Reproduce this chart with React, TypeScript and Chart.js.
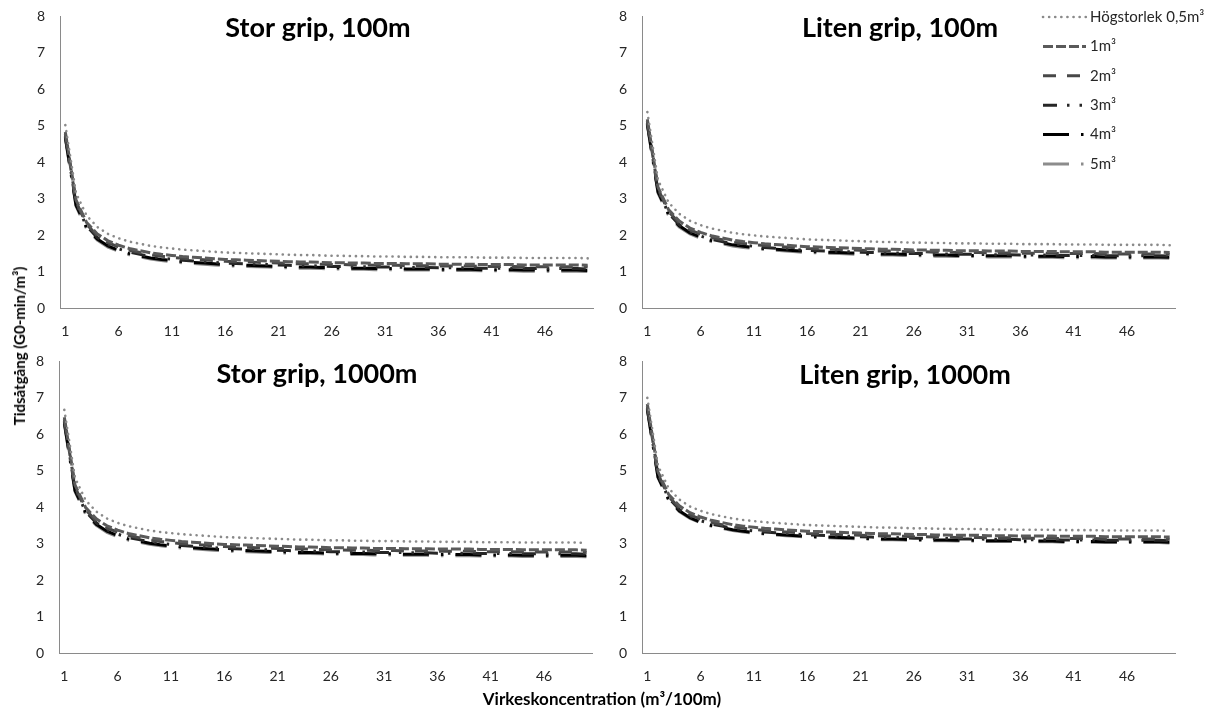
import React, { useEffect, useRef } from 'react';
import { Chart, registerables } from 'chart.js';

Chart.register(...registerables);

// ---------- data ----------
const X_VALUES = ['1','2','3','4','5','6','7','8','9','10','11','12','13','14','15','16','17','18','19','20','21','22','23','24','25','26','27','28','29','30','31','32','33','34','35','36','37','38','39','40','41','42','43','44','45','46','47','48','49','50'];
const X_TICK_LABELS = ['1','6','11','16','21','26','31','36','41','46'];
const Y_MIN = 0;
const Y_MAX = 8;
const Y_STEP = 1;

const SERIES_NAMES = ['Högstorlek 0,5m³', '1m³', '2m³', '3m³', '4m³', '5m³'];
const PANEL_TITLES = ['Stor grip, 100m', 'Liten grip, 100m', 'Stor grip, 1000m', 'Liten grip, 1000m'];
const Y_AXIS_TITLE = 'Tidsåtgång (G0-min/m³)';
const X_AXIS_TITLE = 'Virkeskoncentration (m³/100m)';

// Stor grip, 100m
const stor100_hog = [5.01,3.15,2.53,2.22,2.03,1.91,1.82,1.76,1.70,1.66,1.63,1.60,1.58,1.56,1.54,1.52,1.51,1.50,1.49,1.48,1.47,1.46,1.45,1.45,1.44,1.43,1.43,1.42,1.42,1.41,1.41,1.41,1.40,1.40,1.40,1.39,1.39,1.39,1.39,1.38,1.38,1.38,1.38,1.37,1.37,1.37,1.37,1.37,1.37,1.36];
const stor100_1 = [4.82,2.96,2.34,2.03,1.84,1.72,1.63,1.57,1.51,1.47,1.44,1.41,1.39,1.37,1.35,1.33,1.32,1.31,1.30,1.29,1.28,1.27,1.26,1.26,1.25,1.24,1.24,1.23,1.23,1.22,1.22,1.22,1.21,1.21,1.21,1.20,1.20,1.20,1.20,1.19,1.19,1.19,1.19,1.18,1.18,1.18,1.18,1.18,1.18,1.17];
const stor100_2 = [4.77,2.91,2.29,1.98,1.79,1.67,1.58,1.52,1.46,1.42,1.39,1.36,1.34,1.32,1.30,1.28,1.27,1.26,1.25,1.24,1.23,1.22,1.21,1.21,1.20,1.19,1.19,1.18,1.18,1.17,1.17,1.17,1.16,1.16,1.16,1.15,1.15,1.15,1.15,1.14,1.14,1.14,1.14,1.13,1.13,1.13,1.13,1.13,1.13,1.12];
const stor100_3 = [4.72,2.86,2.24,1.93,1.74,1.62,1.53,1.47,1.41,1.37,1.34,1.31,1.29,1.27,1.25,1.23,1.22,1.21,1.20,1.19,1.18,1.17,1.16,1.16,1.15,1.14,1.14,1.13,1.13,1.12,1.12,1.12,1.11,1.11,1.11,1.10,1.10,1.10,1.10,1.09,1.09,1.09,1.09,1.08,1.08,1.08,1.08,1.08,1.08,1.07];
const stor100_4 = [4.68,2.82,2.20,1.89,1.70,1.58,1.49,1.43,1.37,1.33,1.30,1.27,1.25,1.23,1.21,1.19,1.18,1.17,1.16,1.15,1.14,1.13,1.12,1.12,1.11,1.10,1.10,1.09,1.09,1.08,1.08,1.08,1.07,1.07,1.07,1.06,1.06,1.06,1.06,1.05,1.05,1.05,1.05,1.04,1.04,1.04,1.04,1.04,1.04,1.03];
const stor100_5 = [4.65,2.79,2.17,1.86,1.67,1.55,1.46,1.40,1.34,1.30,1.27,1.24,1.22,1.20,1.18,1.16,1.15,1.14,1.13,1.12,1.11,1.10,1.09,1.09,1.08,1.07,1.07,1.06,1.06,1.05,1.05,1.05,1.04,1.04,1.04,1.03,1.03,1.03,1.03,1.02,1.02,1.02,1.02,1.01,1.01,1.01,1.01,1.01,1.01,1.00];

// Liten grip, 100m
const liten100_hog = [5.37,3.51,2.89,2.58,2.39,2.27,2.18,2.12,2.06,2.02,1.99,1.96,1.94,1.92,1.90,1.88,1.87,1.86,1.85,1.84,1.83,1.82,1.81,1.81,1.80,1.79,1.79,1.78,1.78,1.77,1.77,1.77,1.76,1.76,1.76,1.75,1.75,1.75,1.75,1.74,1.74,1.74,1.74,1.73,1.73,1.73,1.73,1.73,1.73,1.72];
const liten100_1 = [5.17,3.31,2.69,2.38,2.19,2.07,1.98,1.92,1.86,1.82,1.79,1.76,1.74,1.72,1.70,1.68,1.67,1.66,1.65,1.64,1.63,1.62,1.61,1.61,1.60,1.59,1.59,1.58,1.58,1.57,1.57,1.57,1.56,1.56,1.56,1.55,1.55,1.55,1.55,1.54,1.54,1.54,1.54,1.53,1.53,1.53,1.53,1.53,1.53,1.52];
const liten100_2 = [5.12,3.26,2.64,2.33,2.14,2.02,1.93,1.87,1.81,1.77,1.74,1.71,1.69,1.67,1.65,1.63,1.62,1.61,1.60,1.59,1.58,1.57,1.56,1.56,1.55,1.54,1.54,1.53,1.53,1.52,1.52,1.52,1.51,1.51,1.51,1.50,1.50,1.50,1.50,1.49,1.49,1.49,1.49,1.48,1.48,1.48,1.48,1.48,1.48,1.47];
const liten100_3 = [5.07,3.21,2.59,2.28,2.09,1.97,1.88,1.82,1.76,1.72,1.69,1.66,1.64,1.62,1.60,1.58,1.57,1.56,1.55,1.54,1.53,1.52,1.51,1.51,1.50,1.49,1.49,1.48,1.48,1.47,1.47,1.47,1.46,1.46,1.46,1.45,1.45,1.45,1.45,1.44,1.44,1.44,1.44,1.43,1.43,1.43,1.43,1.43,1.43,1.42];
const liten100_4 = [5.04,3.18,2.56,2.25,2.06,1.94,1.85,1.79,1.73,1.69,1.66,1.63,1.61,1.59,1.57,1.55,1.54,1.53,1.52,1.51,1.50,1.49,1.48,1.48,1.47,1.46,1.46,1.45,1.45,1.44,1.44,1.44,1.43,1.43,1.43,1.42,1.42,1.42,1.42,1.41,1.41,1.41,1.41,1.40,1.40,1.40,1.40,1.40,1.40,1.39];
const liten100_5 = [5.01,3.15,2.53,2.22,2.03,1.91,1.82,1.76,1.70,1.66,1.63,1.60,1.58,1.56,1.54,1.52,1.51,1.50,1.49,1.48,1.47,1.46,1.45,1.45,1.44,1.43,1.43,1.42,1.42,1.41,1.41,1.41,1.40,1.40,1.40,1.39,1.39,1.39,1.39,1.38,1.38,1.38,1.38,1.37,1.37,1.37,1.37,1.37,1.37,1.36];

// Stor grip, 1000m
const stor1000_hog = [6.67,4.81,4.19,3.88,3.69,3.57,3.48,3.42,3.36,3.32,3.29,3.26,3.24,3.22,3.20,3.18,3.17,3.16,3.15,3.14,3.13,3.12,3.11,3.11,3.10,3.09,3.09,3.08,3.08,3.07,3.07,3.07,3.06,3.06,3.06,3.05,3.05,3.05,3.05,3.04,3.04,3.04,3.04,3.03,3.03,3.03,3.03,3.03,3.03,3.02];
const stor1000_1 = [6.47,4.61,3.99,3.68,3.49,3.37,3.28,3.22,3.16,3.12,3.09,3.06,3.04,3.02,3.00,2.98,2.97,2.96,2.95,2.94,2.93,2.92,2.91,2.91,2.90,2.89,2.89,2.88,2.88,2.87,2.87,2.87,2.86,2.86,2.86,2.85,2.85,2.85,2.85,2.84,2.84,2.84,2.84,2.83,2.83,2.83,2.83,2.83,2.83,2.82];
const stor1000_2 = [6.41,4.55,3.93,3.62,3.43,3.31,3.22,3.16,3.10,3.06,3.03,3.00,2.98,2.96,2.94,2.92,2.91,2.90,2.89,2.88,2.87,2.86,2.85,2.85,2.84,2.83,2.83,2.82,2.82,2.81,2.81,2.81,2.80,2.80,2.80,2.79,2.79,2.79,2.79,2.78,2.78,2.78,2.78,2.77,2.77,2.77,2.77,2.77,2.77,2.76];
const stor1000_3 = [6.36,4.50,3.88,3.57,3.38,3.26,3.17,3.11,3.05,3.01,2.98,2.95,2.93,2.91,2.89,2.87,2.86,2.85,2.84,2.83,2.82,2.81,2.80,2.80,2.79,2.78,2.78,2.77,2.77,2.76,2.76,2.76,2.75,2.75,2.75,2.74,2.74,2.74,2.74,2.73,2.73,2.73,2.73,2.72,2.72,2.72,2.72,2.72,2.72,2.71];
const stor1000_4 = [6.32,4.46,3.84,3.53,3.34,3.22,3.13,3.07,3.01,2.97,2.94,2.91,2.89,2.87,2.85,2.83,2.82,2.81,2.80,2.79,2.78,2.77,2.76,2.76,2.75,2.74,2.74,2.73,2.73,2.72,2.72,2.72,2.71,2.71,2.71,2.70,2.70,2.70,2.70,2.69,2.69,2.69,2.69,2.68,2.68,2.68,2.68,2.68,2.68,2.67];
const stor1000_5 = [6.29,4.43,3.81,3.50,3.31,3.19,3.10,3.04,2.98,2.94,2.91,2.88,2.86,2.84,2.82,2.80,2.79,2.78,2.77,2.76,2.75,2.74,2.73,2.73,2.72,2.71,2.71,2.70,2.70,2.69,2.69,2.69,2.68,2.68,2.68,2.67,2.67,2.67,2.67,2.66,2.66,2.66,2.66,2.65,2.65,2.65,2.65,2.65,2.65,2.64];

// Liten grip, 1000m
const liten1000_hog = [7.00,5.14,4.52,4.21,4.02,3.90,3.81,3.75,3.69,3.65,3.62,3.59,3.57,3.55,3.53,3.51,3.50,3.49,3.48,3.47,3.46,3.45,3.44,3.44,3.43,3.42,3.42,3.41,3.41,3.40,3.40,3.40,3.39,3.39,3.39,3.38,3.38,3.38,3.38,3.37,3.37,3.37,3.37,3.36,3.36,3.36,3.36,3.36,3.36,3.35];
const liten1000_1 = [6.83,4.97,4.35,4.04,3.85,3.73,3.64,3.58,3.52,3.48,3.45,3.42,3.40,3.38,3.36,3.34,3.33,3.32,3.31,3.30,3.29,3.28,3.27,3.27,3.26,3.25,3.25,3.24,3.24,3.23,3.23,3.23,3.22,3.22,3.22,3.21,3.21,3.21,3.21,3.20,3.20,3.20,3.20,3.19,3.19,3.19,3.19,3.19,3.19,3.18];
const liten1000_2 = [6.77,4.91,4.29,3.98,3.79,3.67,3.58,3.52,3.46,3.42,3.39,3.36,3.34,3.32,3.30,3.28,3.27,3.26,3.25,3.24,3.23,3.22,3.21,3.21,3.20,3.19,3.19,3.18,3.18,3.17,3.17,3.17,3.16,3.16,3.16,3.15,3.15,3.15,3.15,3.14,3.14,3.14,3.14,3.13,3.13,3.13,3.13,3.13,3.13,3.12];
const liten1000_3 = [6.73,4.87,4.25,3.94,3.75,3.63,3.54,3.48,3.42,3.38,3.35,3.32,3.30,3.28,3.26,3.24,3.23,3.22,3.21,3.20,3.19,3.18,3.17,3.17,3.16,3.15,3.15,3.14,3.14,3.13,3.13,3.13,3.12,3.12,3.12,3.11,3.11,3.11,3.11,3.10,3.10,3.10,3.10,3.09,3.09,3.09,3.09,3.09,3.09,3.08];
const liten1000_4 = [6.69,4.83,4.21,3.90,3.71,3.59,3.50,3.44,3.38,3.34,3.31,3.28,3.26,3.24,3.22,3.20,3.19,3.18,3.17,3.16,3.15,3.14,3.13,3.13,3.12,3.11,3.11,3.10,3.10,3.09,3.09,3.09,3.08,3.08,3.08,3.07,3.07,3.07,3.07,3.06,3.06,3.06,3.06,3.05,3.05,3.05,3.05,3.05,3.05,3.04];
const liten1000_5 = [6.67,4.81,4.19,3.88,3.69,3.57,3.48,3.42,3.36,3.32,3.29,3.26,3.24,3.22,3.20,3.18,3.17,3.16,3.15,3.14,3.13,3.12,3.11,3.11,3.10,3.09,3.09,3.08,3.08,3.07,3.07,3.07,3.06,3.06,3.06,3.05,3.05,3.05,3.05,3.04,3.04,3.04,3.04,3.03,3.03,3.03,3.03,3.03,3.03,3.02];

// ---------- styles ----------
const FONT = 'Lato, "Open Sans", sans-serif';
const SERIES_STYLES = [
  { color: '#8a8a8a', dash: [0.1, 6], width: 2.6, cap: 'round' },
  { color: '#5a5a5a', dash: [10, 3], width: 3, cap: 'butt' },
  { color: '#484848', dash: [13, 11], width: 3, cap: 'butt' },
  { color: '#262626', dash: [14, 10, 2.5, 10, 2.5, 10], width: 3, cap: 'butt' },
  { color: '#000000', dash: [26, 12, 2.5, 12], width: 3, cap: 'butt' },
  { color: '#8c8c8c', dash: [26, 12, 2.5, 12], width: 3, cap: 'butt' },
];

type PanelCfg = {
  title: string;
  series: number[][];
  left: number; top: number; width: number; height: number;
  yW: number; xH: number; padTop: number; padRight: number;
  titleX: number; titleY: number; legend: boolean;
};

const PANELS: PanelCfg[] = [
  { title: PANEL_TITLES[0], series: [stor100_hog, stor100_1, stor100_2, stor100_3, stor100_4, stor100_5],
    left: 10, top: 0, width: 590, height: 350, yW: 50, xH: 42, padTop: 16, padRight: 7, titleX: 318, titleY: 37, legend: false },
  { title: PANEL_TITLES[1], series: [liten100_hog, liten100_1, liten100_2, liten100_3, liten100_4, liten100_5],
    left: 600, top: 0, width: 613, height: 350, yW: 42, xH: 42, padTop: 16, padRight: 38, titleX: 900, titleY: 37, legend: true },
  { title: PANEL_TITLES[2], series: [stor1000_hog, stor1000_1, stor1000_2, stor1000_3, stor1000_4, stor1000_5],
    left: 10, top: 346, width: 590, height: 349, yW: 49, xH: 42, padTop: 15, padRight: 8, titleX: 317, titleY: 383, legend: false },
  { title: PANEL_TITLES[3], series: [liten1000_hog, liten1000_1, liten1000_2, liten1000_3, liten1000_4, liten1000_5],
    left: 600, top: 346, width: 613, height: 349, yW: 42, xH: 42, padTop: 15, padRight: 38, titleX: 905, titleY: 384, legend: false },
];

function PanelChart({ cfg }: { cfg: PanelCfg }) {
  const ref = useRef<HTMLCanvasElement | null>(null);
  useEffect(() => {
    if (!ref.current) return;
    const titlePlugin = {
      id: 'panelTitle',
      afterDraw(chart: any) {
        const ctx = chart.ctx;
        ctx.save();
        ctx.font = `bold 27px ${FONT}`;
        ctx.fillStyle = '#000';
        ctx.textAlign = 'center';
        ctx.textBaseline = 'alphabetic';
        ctx.fillText(cfg.title, cfg.titleX - cfg.left, cfg.titleY - cfg.top);
        ctx.restore();
      },
    };
    const legendPlugin = {
      id: 'floatLegend',
      afterDraw(chart: any) {
        if (!cfg.legend) return;
        const ctx = chart.ctx;
        ctx.save();
        SERIES_NAMES.forEach((name, i) => {
          const st = SERIES_STYLES[i];
          const y = 17 + i * 29.4 - cfg.top;
          ctx.beginPath();
          ctx.setLineDash(st.dash);
          ctx.lineCap = st.cap;
          ctx.lineWidth = st.width;
          ctx.strokeStyle = st.color;
          ctx.moveTo(1043 - cfg.left, y);
          ctx.lineTo(1086 - cfg.left, y);
          ctx.stroke();
          ctx.setLineDash([]);
          ctx.font = `15px ${FONT}`;
          ctx.fillStyle = '#262626';
          ctx.textAlign = 'left';
          ctx.textBaseline = 'middle';
          ctx.fillText(name, 1090 - cfg.left, y);
        });
        ctx.restore();
      },
    };
    const chart = new Chart(ref.current, {
      type: 'line',
      data: {
        labels: X_VALUES,
        datasets: cfg.series.map((d, i) => ({
          label: SERIES_NAMES[i],
          data: d,
          borderColor: SERIES_STYLES[i].color,
          backgroundColor: SERIES_STYLES[i].color,
          borderWidth: SERIES_STYLES[i].width,
          borderDash: SERIES_STYLES[i].dash,
          borderCapStyle: SERIES_STYLES[i].cap as any,
          pointRadius: 0,
          fill: false,
          tension: 0,
        })),
      },
      options: {
        responsive: false,
        animation: false,
        devicePixelRatio: 1,
        layout: { padding: { top: cfg.padTop, right: cfg.padRight, left: 0, bottom: 0 } },
        plugins: { legend: { display: false }, tooltip: { enabled: false }, title: { display: false } },
        scales: {
          x: {
            type: 'category',
            offset: true,
            grid: { display: false, drawTicks: true, tickLength: 8 },
            border: { display: true, color: '#8a8a8a', width: 1 },
            ticks: {
              autoSkip: false, maxRotation: 0, minRotation: 0, padding: 7,
              color: '#262626', font: { family: FONT, size: 14 },
              callback: (_v: any, idx: number) => (X_TICK_LABELS.includes(X_VALUES[idx]) ? X_VALUES[idx] : ''),
            },
            afterFit: (s: any) => { s.height = cfg.xH; },
          },
          y: {
            min: Y_MIN, max: Y_MAX,
            grid: { display: false, drawTicks: true, tickLength: 8 },
            border: { display: true, color: '#8a8a8a', width: 1 },
            ticks: { stepSize: Y_STEP, padding: 7, color: '#262626', font: { family: FONT, size: 14 } },
            afterFit: (s: any) => { s.width = cfg.yW; },
          },
        },
      },
      plugins: [titlePlugin, legendPlugin],
    });
    return () => chart.destroy();
  }, [cfg]);
  return (
    <canvas
      ref={ref}
      width={cfg.width}
      height={cfg.height}
      style={{ position: 'absolute', left: cfg.left, top: cfg.top, width: cfg.width, height: cfg.height }}
    />
  );
}

export default function App() {
  return (
    <div style={{ position: 'absolute', left: 0, top: 0, width: 1213, height: 708, background: '#fff', overflow: 'hidden' }}>
      {PANELS.map((p, i) => <PanelChart key={i} cfg={p} />)}
      <div
        style={{
          position: 'absolute', left: 19, top: 346, transform: 'translate(-50%, -50%) rotate(-90deg)',
          whiteSpace: 'nowrap', fontFamily: FONT, fontWeight: 700, fontSize: 15, color: '#000',
        }}
      >
        {Y_AXIS_TITLE}
      </div>
      <div
        style={{
          position: 'absolute', left: 602, top: 698, transform: 'translate(-50%, -50%)',
          whiteSpace: 'nowrap', fontFamily: FONT, fontWeight: 700, fontSize: 17, color: '#000',
        }}
      >
        {X_AXIS_TITLE}
      </div>
    </div>
  );
}
